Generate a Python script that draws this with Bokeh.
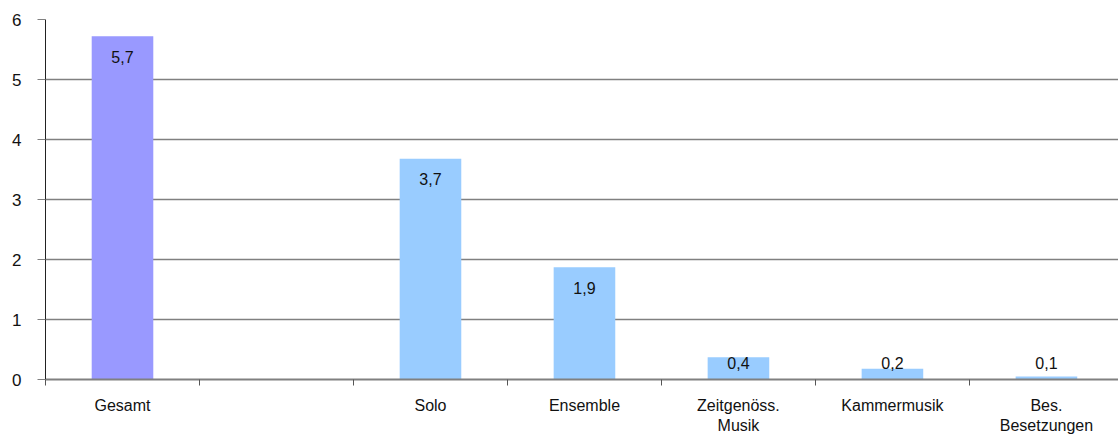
from bokeh.plotting import figure
from bokeh.models import Range1d, FixedTicker, ColumnDataSource
from bokeh.core.properties import value
from bokeh.embed import file_html
from bokeh.resources import INLINE

# ---- data ----
categories = ["Gesamt", "", "Solo", "Ensemble", "Zeitgenöss.\nMusik", "Kammermusik", "Bes.\nBesetzungen"]
values = [5.72, None, 3.68, 1.87, 0.37, 0.18, 0.05]
value_labels = ["5,7", "", "3,7", "1,9", "0,4", "0,2", "0,1"]
bar_colors = ["#9999FF", None, "#99CCFF", "#99CCFF", "#99CCFF", "#99CCFF", "#99CCFF"]
y_ticks = [0, 1, 2, 3, 4, 5, 6]

FONT = "Liberation Sans"

xs, tops, cols, labs, ly = [], [], [], [], []
for i, v in enumerate(values):
    if v is None:
        continue
    xs.append(i + 0.5)
    tops.append(v)
    cols.append(bar_colors[i])
    labs.append(value_labels[i])
    ly.append(v - 0.24 if v > 1 else 0.37)

src = ColumnDataSource(dict(x=xs, top=tops, color=cols, label=labs, ly=ly))

p = figure(width=1118, height=436, output_backend="svg", toolbar_location=None,
           x_range=Range1d(0, 6.968), y_range=Range1d(0, 6),
           min_border_left=45, min_border_right=0, min_border_top=19, min_border_bottom=57)
p.outline_line_color = None
p.background_fill_color = "white"

p.vbar(x="x", top="top", bottom=0, width=0.4, color="color", line_color=None, source=src)
p.text(x="x", y="ly", text="label", source=src, text_align="center", text_baseline="top",
       text_font=value(FONT), text_font_size="16px", text_color="#111111")

# y axis
p.yaxis.ticker = FixedTicker(ticks=y_ticks)
p.yaxis.axis_line_color = "#222222"
p.yaxis.axis_line_width = 1
p.yaxis.major_tick_line_color = "#808080"
p.yaxis.major_tick_out = 8
p.yaxis.major_tick_in = 0
p.yaxis.minor_tick_line_color = None
p.yaxis.major_label_standoff = 16
p.yaxis.major_label_text_font = FONT
p.yaxis.major_label_text_font_size = "17px"
p.yaxis.major_label_text_color = "#111111"

# x axis: labels at centres, ticks at boundaries
centers = [i + 0.5 for i in range(len(categories))]
bounds = [float(i) for i in range(len(categories) + 1)]
p.xaxis.ticker = FixedTicker(ticks=centers, minor_ticks=bounds)
p.xaxis.major_label_overrides = {c: lab for c, lab in zip(centers, categories)}
p.xaxis.axis_line_color = "#808080"
p.xaxis.axis_line_width = 2
p.xaxis.major_tick_line_color = None
p.xaxis.major_tick_out = 0
p.xaxis.major_tick_in = 0
p.xaxis.minor_tick_line_color = "#555555"
p.xaxis.minor_tick_out = 6
p.xaxis.minor_tick_in = 0
p.xaxis.major_label_standoff = 11
p.xaxis.major_label_text_font = FONT
p.xaxis.major_label_text_font_size = "16px"
p.xaxis.major_label_text_color = "#111111"

p.xgrid.grid_line_color = None
p.ygrid.ticker = FixedTicker(ticks=y_ticks[1:])
p.ygrid.grid_line_color = "#808080"
p.ygrid.grid_line_width = 1.5

open("out.html", "w").write(file_html(p, INLINE))
